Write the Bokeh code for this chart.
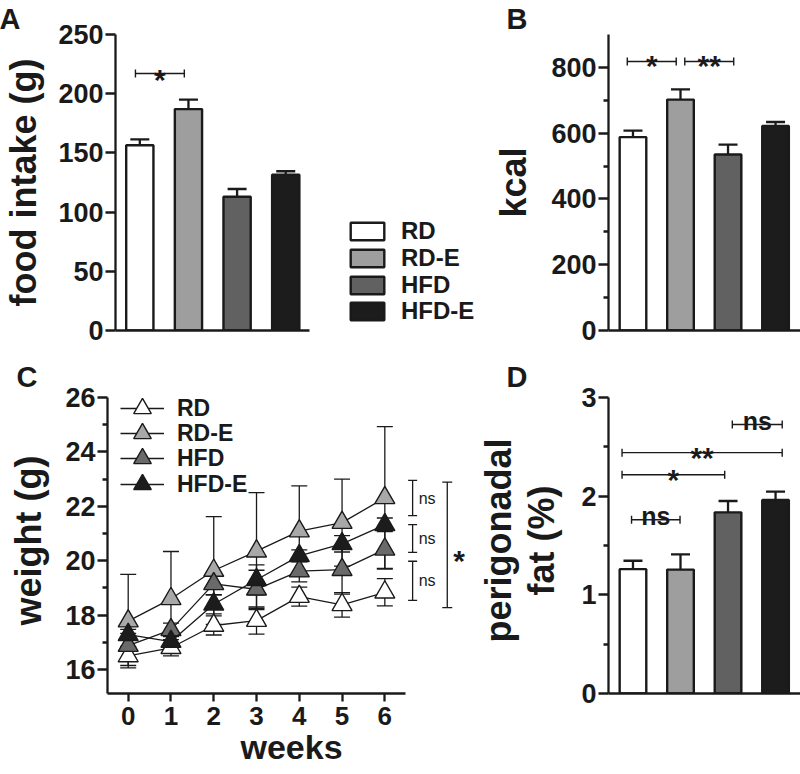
import math
from bokeh.plotting import figure
from bokeh.layouts import column, row
from bokeh.models import (Range1d, FixedTicker, LinearAxis, Whisker, TeeHead,
                          Legend, LegendItem, ColumnDataSource, Title)
from bokeh.embed import file_html
from bokeh.resources import INLINE
from bokeh.core.properties import value

# ---------------- data ----------------
groups = ["RD", "RD-E", "HFD", "HFD-E"]
group_x = [1, 2, 3, 4]
bar_colors = ["#ffffff", "#9e9e9e", "#616161", "#1c1c1c"]
tri_colors = ["#ffffff", "#a8a8a8", "#6a6a6a", "#1c1c1c"]

food_intake = [156.5, 187.0, 113.0, 131.5]
food_intake_sem = [5.0, 8.0, 6.5, 3.0]
kcal = [588.0, 702.0, 535.0, 622.0]
kcal_sem = [20.0, 31.0, 30.0, 12.0]
fat_pct = [1.26, 1.255, 1.835, 1.96]
fat_pct_sem = [0.085, 0.155, 0.115, 0.085]

weeks = [0, 1, 2, 3, 4, 5, 6]
weight_rd = [16.5, 16.8, 17.62, 17.8, 18.68, 18.38, 18.84]
weight_rde = [17.78, 18.6, 19.64, 20.35, 21.09, 21.4, 22.31]
weight_hfd = [16.88, 17.46, 19.15, 18.95, 19.62, 19.67, 20.42]
weight_hfde = [17.28, 17.03, 18.4, 19.3, 20.18, 20.62, 21.32]
sem_rd = [0.35, 0.3, 0.35, 0.5, 0.35, 0.45, 0.5]
sem_rde = [1.72, 1.74, 1.98, 2.15, 1.66, 1.6, 2.62]
sem_hfd = [0.45, 0.25, 0.4, 0.7, 0.4, 0.9, 0.7]
sem_hfde = [0.2, 0.2, 0.35, 0.55, 0.22, 0.3, 0.25]

# significance brackets (from, to, level, label)
sig_a_x0 = [0.91]
sig_a_x1 = [1.915]
sig_a_y = [217.0]
sig_a_lab = ["*"]

sig_b_x0 = [0.88, 2.09]
sig_b_x1 = [1.91, 3.12]
sig_b_y = [818.0, 818.0]
sig_b_lab = ["*", "**"]

sig_d_x0 = [0.97, 0.77, 0.77, 3.09]
sig_d_x1 = [1.99, 2.93, 4.14, 4.14]
sig_d_y = [1.76, 2.216, 2.44, 2.725]
sig_d_lab = ["ns", "*", "**", "ns"]

sig_c_x = [6.65, 6.65, 6.65]
sig_c_y0 = [18.54, 20.31, 21.66]
sig_c_y1 = [19.98, 21.33, 22.95]
sig_c_lab = ["ns", "ns", "ns"]
sig_c_all_x = [7.46]
sig_c_all_y0 = [18.28]
sig_c_all_y1 = [22.89]
sig_c_all_lab = ["*"]

ticks_a = [0, 50, 100, 150, 200, 250]
ticks_b = [0, 200, 400, 600, 800]
minor_b = [100, 300, 500, 700]
ticks_c = [16, 18, 20, 22, 24, 26]
minor_c = [17, 19, 21, 23, 25]
ticks_d = [0, 1, 2, 3]
minor_d = [0.5, 1.5, 2.5]

# ---------------- style ----------------
INK = "#1a1a1a"
FONT = "Liberation Sans"
TICK_FS = "27px"
LABEL_FS = "36px"
LETTER_FS = "29px"


def make_fig(w, h, left, top, bottom, xr, yr):
    p = figure(width=w, height=h, x_range=xr, y_range=yr,
               output_backend="svg", toolbar_location=None,
               x_axis_location=None, y_axis_location=None,
               min_border_left=left, min_border_right=0,
               min_border_top=top, min_border_bottom=bottom)
    p.outline_line_color = None
    p.grid.grid_line_color = None
    p.background_fill_color = "white"
    p.border_fill_color = "white"
    return p


def style_axis(ax, tick_out=10, minor_out=5, standoff=2):
    ax.axis_line_width = 2.3
    ax.axis_line_color = INK
    ax.major_tick_line_width = 2.3
    ax.major_tick_line_color = INK
    ax.minor_tick_line_width = 2.3
    ax.minor_tick_line_color = INK
    ax.major_tick_in = 0
    ax.major_tick_out = tick_out
    ax.minor_tick_in = 0
    ax.minor_tick_out = minor_out
    ax.major_label_text_font = FONT
    ax.major_label_text_font_style = "bold"
    ax.major_label_text_font_size = TICK_FS
    ax.major_label_text_color = INK
    ax.major_label_standoff = standoff
    ax.axis_label_text_font = FONT
    ax.axis_label_text_font_style = "bold"
    ax.axis_label_text_font_size = LABEL_FS
    ax.axis_label_text_color = INK


def add_y_axis(p, ticks, minor, label, standoff, bounds="auto"):
    ax = LinearAxis(ticker=FixedTicker(ticks=ticks, minor_ticks=minor))
    style_axis(ax)
    ax.axis_label = label
    ax.axis_label_standoff = standoff
    ax.bounds = bounds
    p.add_layout(ax, "left")
    return ax


def add_plain_x_axis(p, bounds):
    ax = LinearAxis(ticker=FixedTicker(ticks=[]))
    style_axis(ax)
    ax.bounds = bounds
    p.add_layout(ax, "below")
    return ax


def letter(p, txt, offset, standoff=0):
    p.add_layout(Title(text=txt, align="left", offset=offset, standoff=standoff,
                       vertical_align="bottom", text_font=FONT, text_font_style="bold",
                       text_font_size=LETTER_FS, text_color=INK), "above")


def bars(p, vals, sems, width=0.56):
    src = ColumnDataSource(dict(x=group_x, top=vals, up=[v + e for v, e in zip(vals, sems)],
                                color=bar_colors, group=groups))
    r = p.vbar(x="x", top="top", bottom=0, width=width, source=src,
               fill_color="color", line_color=INK, line_width=2.4)
    w = Whisker(base="x", lower="top", upper="up", source=src, dimension="height",
                line_color=INK, line_width=2.3, lower_head=None,
                upper_head=TeeHead(size=19, line_color=INK, line_width=2.3))
    p.add_layout(w)
    return r


def h_brackets(p, x0, x1, y, labs, star_off=5, ns_off=-4):
    src = ColumnDataSource(dict(x0=x0, x1=x1, y=y, xm=[(a + b) / 2 for a, b in zip(x0, x1)], lab=labs))
    p.add_layout(Whisker(base="y", lower="x0", upper="x1", source=src, dimension="width",
                         line_color=INK, line_width=1.4,
                         lower_head=TeeHead(size=8, line_color=INK, line_width=1.4),
                         upper_head=TeeHead(size=8, line_color=INK, line_width=1.4)))
    stars = [i for i, l in enumerate(labs) if l != "ns"]
    nss = [i for i, l in enumerate(labs) if l == "ns"]
    if stars:
        s = ColumnDataSource(dict(x=[src.data["xm"][i] for i in stars], y=[y[i] for i in stars],
                                  t=[labs[i] for i in stars]))
        p.text(x="x", y="y", text="t", source=s, text_font=value(FONT), text_font_style="bold",
               text_font_size="30px", text_color=INK, text_align="center",
               text_baseline="alphabetic", y_offset=star_off)
    if nss:
        s = ColumnDataSource(dict(x=[src.data["xm"][i] for i in nss], y=[y[i] for i in nss],
                                  t=[labs[i] for i in nss]))
        p.text(x="x", y="y", text="t", source=s, text_font=value(FONT), text_font_style="bold",
               text_font_size="25px", text_color=INK, text_align="center",
               text_baseline="alphabetic", y_offset=ns_off)


def legend_box(p, item, loc, gw, gh, standoff, fs):
    p.add_layout(Legend(items=[item], location=loc, orientation="vertical",
                        glyph_width=gw, glyph_height=gh, label_standoff=standoff, spacing=0,
                        padding=0, margin=0, border_line_color=None, background_fill_alpha=0,
                        label_text_font=FONT, label_text_font_style="bold",
                        label_text_font_size=fs, label_text_color=INK))


# ---------------- panel A ----------------
A_W, TOP_H = 490, 360
pA = make_fig(A_W, TOP_H, 107, 33, 30, Range1d(0.5, 8.21), Range1d(0, 250))
add_y_axis(pA, ticks_a, [], "food intake (g)", 11)
add_plain_x_axis(pA, (0.5, 4.49))
rA = bars(pA, food_intake, food_intake_sem)
h_brackets(pA, sig_a_x0, sig_a_x1, sig_a_y, sig_a_lab, star_off=6)
letter(pA, "A", -116)
legA_bottoms = [85, 58.5, 31.5, 5]
for i, g in enumerate(groups):
    legend_box(pA, LegendItem(label=g, renderers=[rA], index=i), (231, legA_bottoms[i]),
               42, 22, 13, "24px")

# ---------------- panel B ----------------
B_W = 310
pB = make_fig(B_W, TOP_H, 110, 33, 30, Range1d(0.485, 4.525), Range1d(0, 900))
add_y_axis(pB, ticks_b, minor_b, "kcal", 14)
add_plain_x_axis(pB, (0.485, 4.525))
bars(pB, kcal, kcal_sem)
h_brackets(pB, sig_b_x0, sig_b_x1, sig_b_y, sig_b_lab, star_off=4)
letter(pB, "B", -102)

# ---------------- panel C ----------------
C_W, D_W, BOT_H = 475, 325, 414
pC = make_fig(C_W, BOT_H, 107, 27, 81, Range1d(-0.484, 8.12), Range1d(15.12, 26.367))
add_y_axis(pC, ticks_c, minor_c, "weight (g)", 13, bounds=(15.12, 26))
axc = LinearAxis(ticker=FixedTicker(ticks=weeks))
style_axis(axc, tick_out=8, standoff=5)
axc.bounds = (-0.484, 6.48)
axc.axis_label = "weeks"
axc.axis_label_standoff = 0
axc.major_label_text_font_size = "26px"
axc.axis_label_text_font_size = "34px"
pC.add_layout(axc, "below")

series = [(weight_rd, sem_rd), (weight_rde, sem_rde), (weight_hfd, sem_hfd), (weight_hfde, sem_hfde)]
legC_bottoms = [261, 236, 211, 185]
for i, (vals, sems) in enumerate(series):
    src = ColumnDataSource(dict(x=weeks, y=vals,
                                lo=[v - e for v, e in zip(vals, sems)],
                                hi=[v + e for v, e in zip(vals, sems)]))
    pC.add_layout(Whisker(base="x", lower="lo", upper="hi", source=src, dimension="height",
                          level="underlay", line_color=INK, line_width=1.3,
                          lower_head=TeeHead(size=16, line_color=INK, line_width=1.3),
                          upper_head=TeeHead(size=16, line_color=INK, line_width=1.3)))
    ln = pC.line(x="x", y="y", source=src, line_color=INK, line_width=1.3)
    sc = pC.scatter(x="x", y="y", source=src, marker="triangle", size=20,
                    fill_color=tri_colors[i], line_color=INK, line_width=1.4)
    legend_box(pC, LegendItem(label=groups[i], renderers=[ln, sc]), (13, legC_bottoms[i]),
               44, 48, 13, "23px")

srcC = ColumnDataSource(dict(x=sig_c_x, y0=sig_c_y0, y1=sig_c_y1,
                             ym=[(a + b) / 2 for a, b in zip(sig_c_y0, sig_c_y1)], lab=sig_c_lab))
pC.add_layout(Whisker(base="x", lower="y0", upper="y1", source=srcC, dimension="height",
                      line_color=INK, line_width=1.3,
                      lower_head=TeeHead(size=9, line_color=INK, line_width=1.3),
                      upper_head=TeeHead(size=9, line_color=INK, line_width=1.3)))
pC.text(x="x", y="ym", text="lab", source=srcC, x_offset=6, text_font=value(FONT),
        text_font_size="16px", text_color=INK, text_align="left", text_baseline="middle")
srcC2 = ColumnDataSource(dict(x=sig_c_all_x, y0=sig_c_all_y0, y1=sig_c_all_y1,
                              ym=[(a + b) / 2 for a, b in zip(sig_c_all_y0, sig_c_all_y1)],
                              lab=sig_c_all_lab))
pC.add_layout(Whisker(base="x", lower="y0", upper="y1", source=srcC2, dimension="height",
                      line_color=INK, line_width=1.3,
                      lower_head=TeeHead(size=10, line_color=INK, line_width=1.3),
                      upper_head=TeeHead(size=10, line_color=INK, line_width=1.3)))
pC.text(x="x", y="ym", text="lab", source=srcC2, x_offset=6, y_offset=16, text_font=value(FONT),
        text_font_style="bold", text_font_size="30px", text_color=INK,
        text_align="left", text_baseline="alphabetic")
letter(pC, "C", -91, standoff=-10)

# ---------------- panel D ----------------
pD = make_fig(D_W, BOT_H, 125, 27, 78, Range1d(0.485, 4.525), Range1d(0, 3.1))
add_y_axis(pD, ticks_d, minor_d, "fat (%)", 16, bounds=(0, 3))
add_plain_x_axis(pD, (0.485, 4.525))
bars(pD, fat_pct, fat_pct_sem)
h_brackets(pD, sig_d_x0, sig_d_x1, sig_d_y, sig_d_lab, star_off=5, ns_off=-4)
pD.add_layout(Title(text="perigonadal", align="center", standoff=0, vertical_align="bottom",
                    text_font=FONT, text_font_style="bold", text_font_size=LABEL_FS,
                    text_color=INK), "left")
letter(pD, "D", -102, standoff=-10)

layout = column(row(pA, pB), row(pC, pD))
open("out.html", "w").write(file_html(layout, INLINE))
